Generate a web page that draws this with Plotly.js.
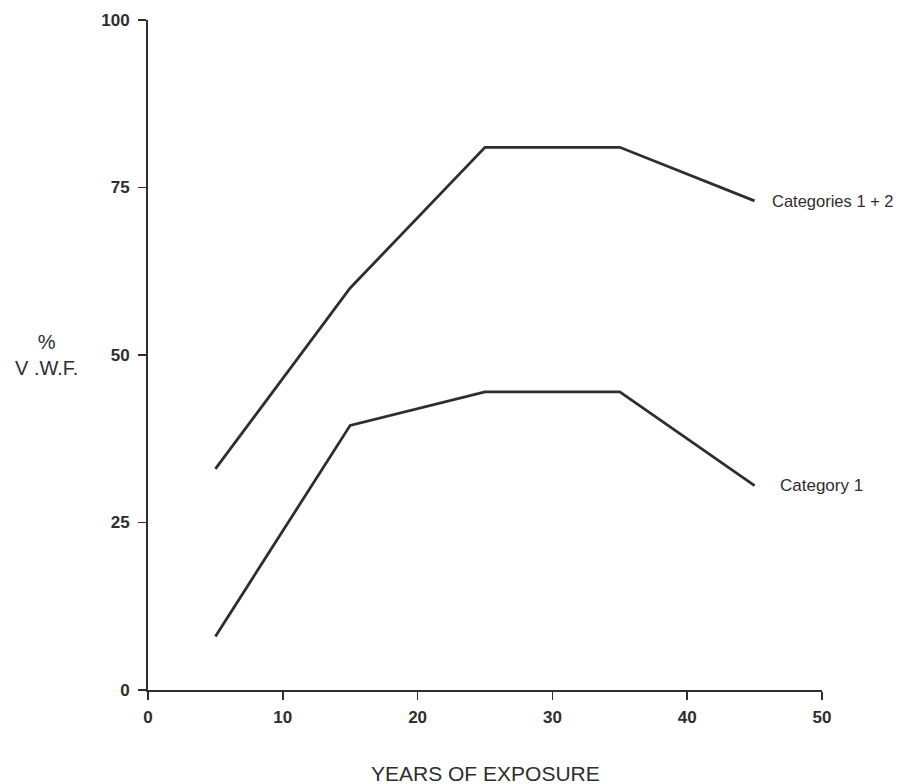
<!DOCTYPE html>
<html>
<head>
<meta charset="utf-8">
<script src="https://cdn.plot.ly/plotly-3.0.1.min.js"></script>
<style>html,body{margin:0;padding:0;background:#fff;}#chart{width:912px;height:784px;}</style>
</head>
<body>
<div id="chart"></div>
<script>
var years = [5, 15, 25, 35, 45];
var categories12 = [33, 60, 81, 81, 73];
var category1 = [8, 39.5, 44.5, 44.5, 30.5];
var seriesNames = ["Categories 1 + 2", "Category 1"];
var xTicks = [0, 10, 20, 30, 40, 50];
var yTicks = [0, 25, 50, 75, 100];

var ink = '#2e2e2e';
var fontFam = '"Liberation Sans", Arial, sans-serif';

var traces = [
  {x: years, y: categories12, mode: 'lines', name: seriesNames[0],
   line: {color: ink, width: 2.8}, hoverinfo: 'skip'},
  {x: years, y: category1, mode: 'lines', name: seriesNames[1],
   line: {color: ink, width: 2.8}, hoverinfo: 'skip'}
];

var layout = {
  width: 912, height: 784,
  margin: {l: 148, r: 90, t: 20, b: 94},
  paper_bgcolor: '#fff', plot_bgcolor: '#fff',
  showlegend: false,
  font: {family: fontFam, color: ink},
  xaxis: {
    range: [0, 50], tickvals: xTicks, ticktext: xTicks.map(String),
    showgrid: false, zeroline: false,
    showline: true, linecolor: ink, linewidth: 2,
    ticks: 'outside', ticklen: 8, tickwidth: 1.6, tickcolor: ink,
    ticklabelstandoff: 3,
    tickfont: {size: 17, color: ink, weight: 'bold', family: fontFam},
    fixedrange: true
  },
  yaxis: {
    range: [0, 100], tickvals: yTicks, ticktext: yTicks.map(String),
    showgrid: false, zeroline: false,
    showline: true, linecolor: ink, linewidth: 2,
    ticks: 'outside', ticklen: 8, tickwidth: 1.6, tickcolor: ink,
    ticklabelstandoff: 5,
    tickfont: {size: 17, color: ink, weight: 'bold', family: fontFam},
    fixedrange: true
  },
  annotations: [
    {x: years[4], y: categories12[4], xref: 'x', yref: 'y', text: seriesNames[0],
     showarrow: false, xanchor: 'left', yanchor: 'middle', xshift: 15,
     font: {size: 16.5, color: ink, family: fontFam}},
    {x: years[4], y: category1[4], xref: 'x', yref: 'y', text: seriesNames[1],
     showarrow: false, xanchor: 'left', yanchor: 'middle', xshift: 23, yshift: 0,
     font: {size: 17, color: ink, family: fontFam}},
    {x: 0.5, y: 0, xref: 'paper', yref: 'paper', text: 'YEARS OF EXPOSURE',
     showarrow: false, xanchor: 'center', yanchor: 'middle', yshift: -83,
     font: {size: 21, color: ink, family: fontFam}},
    {x: 0, y: 0.5, xref: 'paper', yref: 'paper', text: '%<br>V .W.F.',
     showarrow: false, xanchor: 'center', yanchor: 'middle', xshift: -102, yshift: -0,
     align: 'center',
     font: {size: 20, color: ink, family: fontFam}}
  ]
};

Plotly.newPlot('chart', traces, layout, {displayModeBar: false, staticPlot: true});
</script>
</body>
</html>
